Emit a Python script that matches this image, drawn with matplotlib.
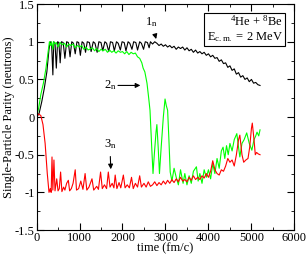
import matplotlib
matplotlib.use("Agg")
import matplotlib.pyplot as plt
from matplotlib.ticker import MultipleLocator

plt.rcParams["font.family"] = ["Liberation Serif", "DejaVu Serif"]
plt.rcParams["mathtext.fontset"] = "custom"
plt.rcParams["mathtext.rm"] = "Liberation Serif"
plt.rcParams["mathtext.it"] = "Liberation Serif"

# 1n level (black)
t_1n = [0, 60, 120, 180, 240, 290, 320, 350, 380, 400, 430, 460, 490, 520, 550, 580,
        620, 660, 700, 740, 780, 820, 860, 900, 940, 980, 1020, 1060, 1100, 1140, 1180,
        1230, 1270, 1320, 1360, 1410, 1450, 1500, 1540, 1590, 1630, 1680, 1720, 1770,
        1810, 1860, 1900, 1950, 1990, 2040, 2080, 2130, 2170, 2220, 2260, 2310, 2350,
        2400, 2440, 2490, 2530, 2580, 2620, 2650, 2700, 2750, 2800, 2850, 2900, 2950,
        3000, 3050, 3100, 3150, 3200, 3250, 3300, 3350, 3400, 3450, 3500, 3550, 3600,
        3650, 3700, 3750, 3800, 3850, 3900, 3950, 4000, 4050, 4100, 4150, 4200, 4250,
        4300, 4350, 4400, 4450, 4500, 4550, 4600, 4650, 4700, 4750, 4800, 4850, 4900,
        4950, 5000, 5050, 5100, 5150, 5200]
p_1n = [0, 0.05, 0.2, 0.38, 0.6, 0.9, 1.0, 0.98, 0.56, 1.0, 0.98, 0.65, 1.0, 0.99, 0.72, 1.0,
        0.99, 0.78, 1.0, 0.99, 0.8, 1.0, 0.98, 0.84, 1.0, 0.99, 0.82, 1.0, 0.98, 0.86, 1.0,
        0.99, 0.87, 1.0, 0.98, 0.86, 1.0, 0.99, 0.88, 1.0, 0.98, 0.87, 1.0, 0.99,
        0.88, 1.0, 0.98, 0.89, 1.0, 0.99, 0.88, 1.0, 0.98, 0.9, 1.0, 0.99, 0.89,
        1.0, 0.98, 0.9, 1.0, 0.99, 0.92, 1.0, 0.97, 1.0, 0.98, 0.95, 0.97, 0.94,
        0.96, 0.93, 0.95, 0.92, 0.94, 0.9, 0.93, 0.91, 0.93, 0.89, 0.92, 0.88, 0.9,
        0.86, 0.89, 0.85, 0.87, 0.84, 0.86, 0.82, 0.84, 0.8, 0.82, 0.78, 0.79, 0.74,
        0.76, 0.71, 0.72, 0.66, 0.68, 0.62, 0.64, 0.57, 0.59, 0.53, 0.55, 0.5, 0.52,
        0.47, 0.5, 0.45, 0.46, 0.43, 0.42]

# 2n level (green)
t_2n = [0, 50, 100, 160, 220, 275, 300, 330, 350, 380, 400, 430, 460, 500, 550, 600,
        650, 700, 750, 800, 850, 900, 950, 1000, 1050, 1100, 1150, 1200, 1300, 1350,
        1400, 1450, 1500, 1550, 1600, 1650, 1700, 1750, 1800, 1850, 1900, 1950, 2000,
        2050, 2100, 2150, 2200, 2250, 2300, 2350, 2400, 2450, 2480, 2520, 2570, 2610,
        2640, 2680, 2710, 2740, 2780, 2800, 2830, 2860, 2900, 2950, 2990, 3020, 3050,
        3080, 3110, 3150, 3200, 3250, 3300, 3350, 3410, 3450, 3500, 3550, 3600, 3650,
        3720, 3760, 3800, 3850, 3900, 3950, 4000, 4050, 4100, 4150, 4200, 4250, 4300,
        4340, 4380, 4420, 4460, 4500, 4550, 4600, 4660, 4700, 4730, 4780, 4830, 4890,
        4950, 5010, 5060, 5100, 5130, 5170, 5200]
p_2n = [0, 0.12, 0.3, 0.45, 0.65, 0.89, 1.0, 0.95, 1.0, 0.9, 1.0, 0.97, 0.99, 0.93, 0.99, 0.96,
        0.98, 0.93, 0.97, 0.95, 0.97, 0.92, 0.95, 0.93, 0.95, 0.9, 0.93, 0.89, 0.92, 0.88,
        0.91, 0.87, 0.9, 0.88, 0.9, 0.86, 0.89, 0.86, 0.88, 0.85, 0.88, 0.86, 0.87,
        0.84, 0.87, 0.83, 0.86, 0.84, 0.85, 0.8, 0.78, 0.72, 0.65, 0.6, 0.45, 0.25,
        0.09, -0.4, -0.75, -0.5, -0.2, -0.1, -0.4, -0.75, -0.4, 0.0, 0.24, 0.15, 0.09,
        -0.3, -0.73, -0.85, -0.68, -0.8, -0.9, -0.7, -0.88, -0.75, -0.9, -0.78, -0.88, -0.72,
        -0.66, -0.85, -0.75, -0.88, -0.7, -0.8, -0.7, -0.82, -0.62, -0.75, -0.55, -0.68, -0.45,
        -0.4, -0.55, -0.38, -0.5, -0.35, -0.45, -0.3, -0.22, -0.4, -0.53, -0.35, -0.3, -0.21,
        -0.35, -0.44, -0.3, -0.25, -0.2, -0.25, -0.17]

# 3n level (red)
t_3n = [0, 50, 100, 150, 200, 250, 290, 320, 340, 360, 380, 405, 430, 470, 500, 530, 560,
        590, 630, 660, 700, 740, 770, 810, 850, 900, 930, 980, 1030, 1080, 1130, 1170, 1220,
        1290, 1330, 1400, 1440, 1490, 1530, 1580, 1630, 1670, 1710, 1760, 1800, 1830, 1870,
        1920, 1960, 2020, 2060, 2110, 2160, 2210, 2250, 2300, 2350, 2400, 2440, 2500, 2550,
        2600, 2650, 2700, 2750, 2800, 2850, 2900, 2950, 3000, 3050, 3100, 3150, 3200, 3250,
        3300, 3350, 3400, 3450, 3500, 3550, 3600, 3650, 3700, 3750, 3800, 3850, 3900, 3950,
        4000, 4050, 4100, 4150, 4200, 4250, 4300, 4350, 4400, 4450, 4500, 4550, 4600, 4650,
        4700, 4730, 4780, 4820, 4870, 4920, 4960, 5000, 5020, 5060, 5090, 5120, 5160, 5200]
p_3n = [0, 0.04, 0.02, -0.1, -0.35, -0.75, -1.0, -0.95, -1.0, -0.53, -0.97, -0.57, -0.98,
        -0.82, -0.98, -0.95, -0.73, -0.99, -0.93, -0.97, -0.88, -0.84, -0.98, -0.95, -0.88,
        -0.7, -0.97, -0.95, -0.85, -0.96, -0.75, -0.97, -0.93, -0.82, -0.97, -0.92, -0.96,
        -0.73, -0.95, -0.9, -0.95, -0.73, -0.93, -0.88, -0.94, -0.77, -0.95, -0.87, -0.94,
        -0.77, -0.94, -0.9, -0.94, -0.8, -0.95, -0.88, -0.93, -0.78, -0.93, -0.88, -0.93,
        -0.86, -0.92, -0.9, -0.86, -0.91, -0.87, -0.9, -0.85, -0.89, -0.84, -0.88, -0.83,
        -0.87, -0.82, -0.86, -0.8, -0.85, -0.83, -0.86, -0.8, -0.84, -0.78, -0.83, -0.8,
        -0.83, -0.78, -0.81, -0.75, -0.8, -0.72, -0.58, -0.7, -0.75, -0.77, -0.7, -0.72,
        -0.65, -0.55, -0.6, -0.57, -0.65, -0.5, -0.3, -0.24, -0.5, -0.6, -0.57, -0.55,
        -0.4, -0.15, -0.08, -0.3, -0.5, -0.47, -0.49, -0.5]

fig = plt.figure(figsize=(3.07, 2.57), dpi=100)
ax = fig.add_axes([0.119, 0.105, 0.84, 0.879])

ax.plot(t_1n, p_1n, color="black", lw=0.8)
ax.plot(t_2n, p_2n, color="#00ff00", lw=0.8)
ax.plot(t_3n, p_3n, color="red", lw=0.8)

ax.set_xlim(0, 6000)
ax.set_ylim(-1.5, 1.5)
ax.xaxis.set_major_locator(MultipleLocator(1000))
ax.xaxis.set_minor_locator(MultipleLocator(500))
ax.yaxis.set_major_locator(MultipleLocator(0.5))
ax.yaxis.set_minor_locator(MultipleLocator(0.25))
ax.yaxis.set_major_formatter(plt.FuncFormatter(lambda v, p: f"{v:g}"))
ax.tick_params(which="both", direction="in", top=True, right=True, labelsize=9, pad=1.5)
ax.tick_params(which="major", length=5)
ax.tick_params(which="minor", length=2.5)
ax.set_xlabel("time (fm/c)", fontsize=9, labelpad=-1)
ax.set_ylabel("Single-Particle Parity (neutrons)", fontsize=9, labelpad=0)

arrow = dict(arrowstyle="-|>", color="black", lw=0.8, mutation_scale=7)
ax.annotate(r"1$_\mathregular{n}$", xy=(2800, 1.0), xytext=(2530, 1.22), fontsize=9, arrowprops=arrow)
ax.annotate("", xy=(2480, 0.42), xytext=(1830, 0.42), arrowprops=arrow)
ax.text(1560, 0.42, r"2$_\mathregular{n}$", fontsize=9, va="center")
ax.annotate(r"3$_\mathregular{n}$", xy=(1730, -0.73), xytext=(1560, -0.4), fontsize=9, arrowprops=arrow)

ax.text(0.955, 0.955,
        "$^\\mathregular{4}$He + $^\\mathregular{8}$Be\nE$_\\mathregular{c.m.}$ = 2 MeV",
        transform=ax.transAxes, ha="right", va="top", fontsize=9, linespacing=1.1,
        bbox=dict(boxstyle="square,pad=0.2", fc="white", ec="black", lw=0.8))

fig.savefig("out.png", dpi=100)
